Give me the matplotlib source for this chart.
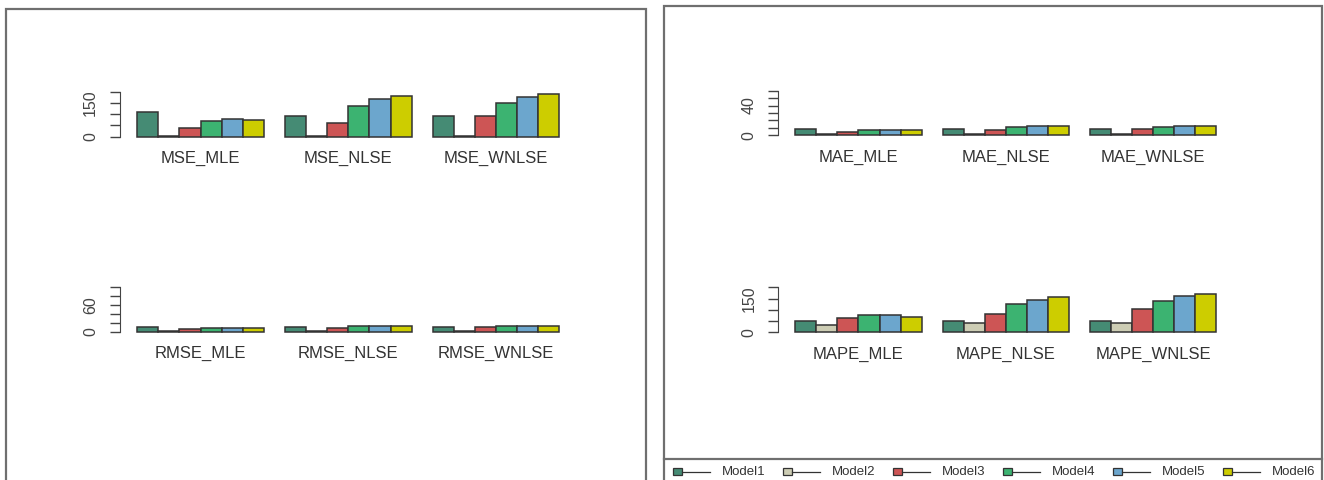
import matplotlib
matplotlib.use("Agg")
import matplotlib.pyplot as plt
from matplotlib.patches import Rectangle
from matplotlib.lines import Line2D

plt.rcParams['font.family'] = ['Liberation Sans', 'DejaVu Sans']

# models and their fill colours
models = ["Model1", "Model2", "Model3", "Model4", "Model5", "Model6"]
colors = ["#458B74", "#CDCDB4", "#CD5555", "#3CB371", "#6CA6CD", "#CDCD00"]

# MSE
mse_groups = ["MSE_MLE", "MSE_NLSE", "MSE_WNLSE"]
mse_vals = [[110, 2, 37, 70, 78, 75],
            [94, 2, 62, 135, 167, 180],
            [94, 2, 92, 152, 176, 188]]

# RMSE
rmse_groups = ["RMSE_MLE", "RMSE_NLSE", "RMSE_WNLSE"]
rmse_vals = [[10.5, 1.4, 6.0, 8.4, 8.8, 8.7],
             [9.7, 1.4, 7.9, 11.6, 12.9, 13.4],
             [9.7, 1.4, 9.6, 12.3, 13.3, 13.7]]

# MAE
mae_groups = ["MAE_MLE", "MAE_NLSE", "MAE_WNLSE"]
mae_vals = [[8.5, 2, 5.0, 7.6, 7.6, 7.6],
            [8.5, 2, 7.6, 11.2, 12.5, 12.5],
            [8.5, 2, 8.5, 11.2, 12.0, 12.0]]

# MAPE
mape_groups = ["MAPE_MLE", "MAPE_NLSE", "MAPE_WNLSE"]
mape_vals = [[52, 31, 62, 77, 77, 68],
             [52, 40, 81, 124, 145, 158],
             [52, 40, 104, 140, 161, 172]]

W, H = 1324, 480
fig = plt.figure(figsize=(W / 100, H / 100), dpi=100)


def px_axes(x0, x1, y0, y1):
    return fig.add_axes([x0 / W, 1 - y1 / H, (x1 - x0) / W, (y1 - y0) / H])


def barpanel(ax, groups, vals, top, step, shown):
    for g, row in enumerate(vals):
        xs = [1 + 7 * g + m for m in range(len(row))]
        ax.bar(xs, row, width=1, align='edge', color=colors,
               edgecolor='#333333', linewidth=1.1)
    ax.set_xlim(0.2, 21.8)
    ax.set_ylim(-0.04 * top, 1.04 * top)
    ax.set_xticks([4, 11, 18], groups)
    ax.tick_params(axis='x', length=0, pad=9, labelsize=12, labelcolor='#333333')
    ticks = list(range(0, top + 1, step))
    ax.set_yticks(ticks, [str(t) if t in shown else "" for t in ticks],
                  rotation=90, va='center')
    ax.tick_params(axis='y', length=7, width=1, pad=9, labelsize=11.5,
                   color='#444444', labelcolor='#444444')
    for s in ['top', 'right', 'bottom']:
        ax.spines[s].set_visible(False)
    ax.spines['left'].set_bounds(0, top)
    ax.spines['left'].set_color('#444444')
    ax.patch.set_alpha(0)


barpanel(px_axes(120.4, 576.2, 89.9, 138.5), mse_groups, mse_vals, 200, 50, [0, 150])
barpanel(px_axes(120.4, 576.2, 284.9, 333.5), rmse_groups, rmse_vals, 100, 20, [0, 60])
barpanel(px_axes(778.5, 1233.1, 88.9, 137.1), mae_groups, mae_vals, 60, 10, [0, 40])
barpanel(px_axes(778.5, 1233.1, 285.5, 334.1), mape_groups, mape_vals, 200, 50, [0, 150])

# panel frames (open at the bottom edge of the image)
frame_kw = dict(transform=fig.transFigure, fill=False, edgecolor='#6f6f6f', linewidth=1.6)
fig.patches.append(Rectangle((6 / W, -0.1), 640 / W, 1.1 - 9 / H, **frame_kw))
fig.patches.append(Rectangle((664 / W, -0.1), 658 / W, 1.1 - 5.5 / H, **frame_kw))
fig.lines.append(Line2D([664 / W, 1322 / W], [1 - 459 / H] * 2, transform=fig.transFigure,
                        color='#6f6f6f', linewidth=1.6))

# legend row: filled box, line, label
for i, (name, col) in enumerate(zip(models, colors)):
    x0 = 673 + i * 110
    fig.patches.append(Rectangle((x0 / W, 1 - 475 / H), 9 / W, 7 / H, transform=fig.transFigure,
                                 facecolor=col, edgecolor='#333333', linewidth=0.9))
    fig.lines.append(Line2D([(x0 + 9) / W, (x0 + 37) / W], [1 - 471.5 / H] * 2,
                            transform=fig.transFigure, color='#333333', linewidth=0.9))
    fig.text((x0 + 49) / W, 1 - 472 / H, name, fontsize=9.5, color='#333333',
             ha='left', va='center')

fig.savefig("out.png", dpi=100)
